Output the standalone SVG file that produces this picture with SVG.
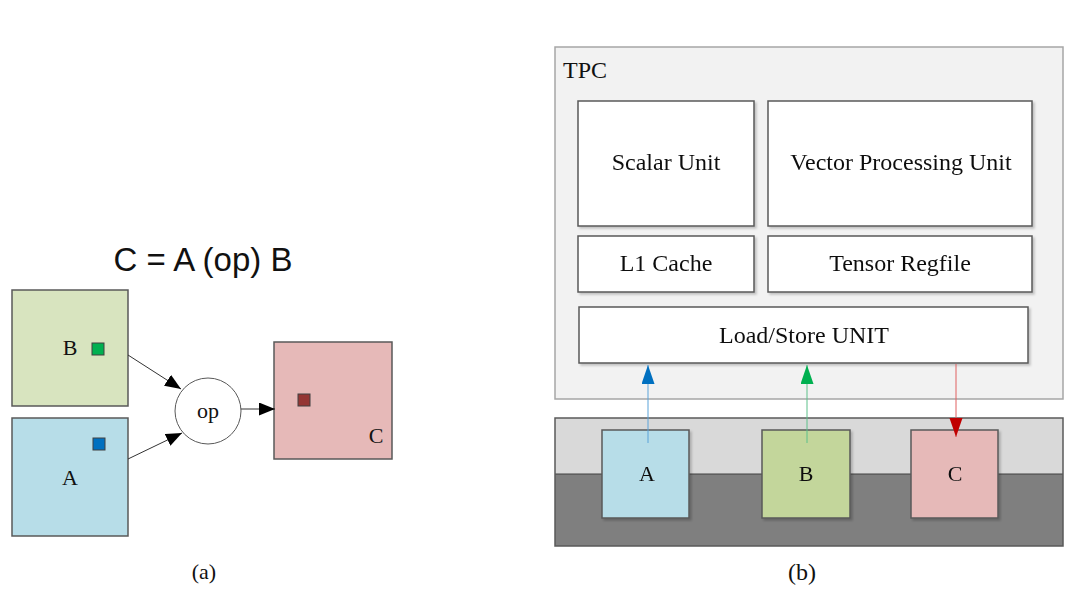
<svg xmlns="http://www.w3.org/2000/svg" width="1081" height="598" viewBox="0 0 1081 598">
<style>
  text { font-family: "Liberation Serif", "DejaVu Serif", serif; fill: #111; }
  .lbl { font-size: 22px; text-anchor: middle; }
  .big { font-size: 24px; text-anchor: middle; }
  .box { stroke: #595959; stroke-width: 1.5; }
  .inner { fill: #ffffff; stroke: #595959; stroke-width: 1.5; }
  .sq { stroke: #404040; stroke-width: 1; }
</style>
<defs>
  <filter id="sh" x="-10%" y="-10%" width="130%" height="130%">
    <feDropShadow dx="2" dy="2" stdDeviation="1" flood-color="#000" flood-opacity="0.2"/>
  </filter>
  <marker id="ak" markerUnits="userSpaceOnUse" markerWidth="17" markerHeight="14" refX="16" refY="6.5" orient="auto">
    <path d="M0,0 L16,6.5 L0,13 Z" fill="#000"/>
  </marker>
  <marker id="ab" markerUnits="userSpaceOnUse" markerWidth="20" markerHeight="14" refX="19" refY="6.5" orient="auto">
    <path d="M0,0 L19,6.5 L0,13 Z" fill="#0070c0"/>
  </marker>
  <marker id="ag" markerUnits="userSpaceOnUse" markerWidth="20" markerHeight="14" refX="19" refY="6.5" orient="auto">
    <path d="M0,0 L19,6.5 L0,13 Z" fill="#00b050"/>
  </marker>
  <marker id="ar" markerUnits="userSpaceOnUse" markerWidth="20" markerHeight="14" refX="19" refY="6.5" orient="auto">
    <path d="M0,0 L19,6.5 L0,13 Z" fill="#c00000"/>
  </marker>
</defs>
<rect width="1081" height="598" fill="#ffffff"/>

<!-- (a) -->
<text x="203" y="271" font-size="33" text-anchor="middle" style="font-family:'Liberation Sans',Arial,sans-serif">C = A (op) B</text>

<g id="nodeB">
  <rect class="box" x="12" y="290" width="116" height="116" fill="#d8e4bf"/>
  <text class="lbl" x="70" y="355">B</text>
  <rect class="sq" x="92" y="343" width="12" height="12" fill="#00b050"/>
</g>
<g id="nodeA">
  <rect class="box" x="12" y="418" width="116" height="118" fill="#b7dde8"/>
  <text class="lbl" x="70" y="485">A</text>
  <rect class="sq" x="93" y="438" width="12" height="12" fill="#0070c0"/>
</g>
<g id="nodeOp">
  <circle cx="208" cy="411" r="33" fill="#ffffff" stroke="#595959" stroke-width="1"/>
  <text class="lbl" x="208" y="418">op</text>
</g>
<g id="nodeC">
  <rect class="box" x="274" y="342" width="118" height="117" fill="#e6b9b8"/>
  <text class="lbl" x="376" y="443">C</text>
  <rect class="sq" x="298" y="394" width="12" height="12" fill="#943634"/>
</g>
<g id="connectors-a" stroke="#333" stroke-width="1" fill="none">
  <line x1="128" y1="355" x2="181" y2="389" marker-end="url(#ak)"/>
  <line x1="128" y1="459" x2="182" y2="433" marker-end="url(#ak)"/>
  <line x1="241" y1="409" x2="275" y2="409" marker-end="url(#ak)"/>
</g>
<text class="lbl" x="204" y="579">(a)</text>

<!-- (b) -->
<g id="tpc">
  <rect x="555" y="47" width="508" height="352" fill="#f2f2f2" stroke="#a6a6a6" stroke-width="1.5"/>
  <text x="563" y="78" font-size="24">TPC</text>
</g>
<g id="scalar" filter="url(#sh)">
  <rect class="inner" x="578" y="101" width="176" height="125"/>
  <text class="big" x="666" y="170">Scalar Unit</text>
</g>
<g id="vector" filter="url(#sh)">
  <rect class="inner" x="768" y="101" width="264" height="125"/>
  <text class="big" x="901" y="170">Vector Processing Unit</text>
</g>
<g id="l1" filter="url(#sh)">
  <rect class="inner" x="578" y="236" width="176" height="56"/>
  <text class="big" x="666" y="271">L1 Cache</text>
</g>
<g id="tensor" filter="url(#sh)">
  <rect class="inner" x="768" y="236" width="264" height="56"/>
  <text class="big" x="900" y="271">Tensor Regfile</text>
</g>
<g id="lsu" filter="url(#sh)">
  <rect class="inner" x="579" y="307" width="449" height="56"/>
  <text class="big" x="804" y="343">Load/Store UNIT</text>
</g>
<g id="memory">
  <rect x="555" y="418" width="508" height="56" fill="#d9d9d9"/>
  <rect x="555" y="474" width="508" height="72" fill="#7f7f7f"/>
  <line x1="555" y1="474" x2="1063" y2="474" stroke="#404040" stroke-width="1"/>
  <rect x="555" y="418" width="508" height="128" fill="none" stroke="#595959" stroke-width="1.5"/>
</g>
<g id="memA" filter="url(#sh)">
  <rect class="box" x="602" y="430" width="87" height="88" fill="#b7dde8"/>
  <text class="lbl" x="647" y="481">A</text>
</g>
<g id="memB" filter="url(#sh)">
  <rect class="box" x="762" y="430" width="88" height="88" fill="#c3d69b"/>
  <text class="lbl" x="806" y="481">B</text>
</g>
<g id="memC" filter="url(#sh)">
  <rect class="box" x="911" y="430" width="87" height="88" fill="#e6b9b8"/>
  <text class="lbl" x="955" y="481">C</text>
</g>
<g id="connectors-b" stroke-width="1" fill="none">
  <line x1="648" y1="443" x2="648" y2="365" stroke="#5ba3d9" marker-end="url(#ab)"/>
  <line x1="807" y1="443" x2="807" y2="365" stroke="#5cc08a" marker-end="url(#ag)"/>
  <line x1="956" y1="364" x2="956" y2="437" stroke="#e06060" marker-end="url(#ar)"/>
</g>
<text class="big" x="802" y="580">(b)</text>
</svg>
